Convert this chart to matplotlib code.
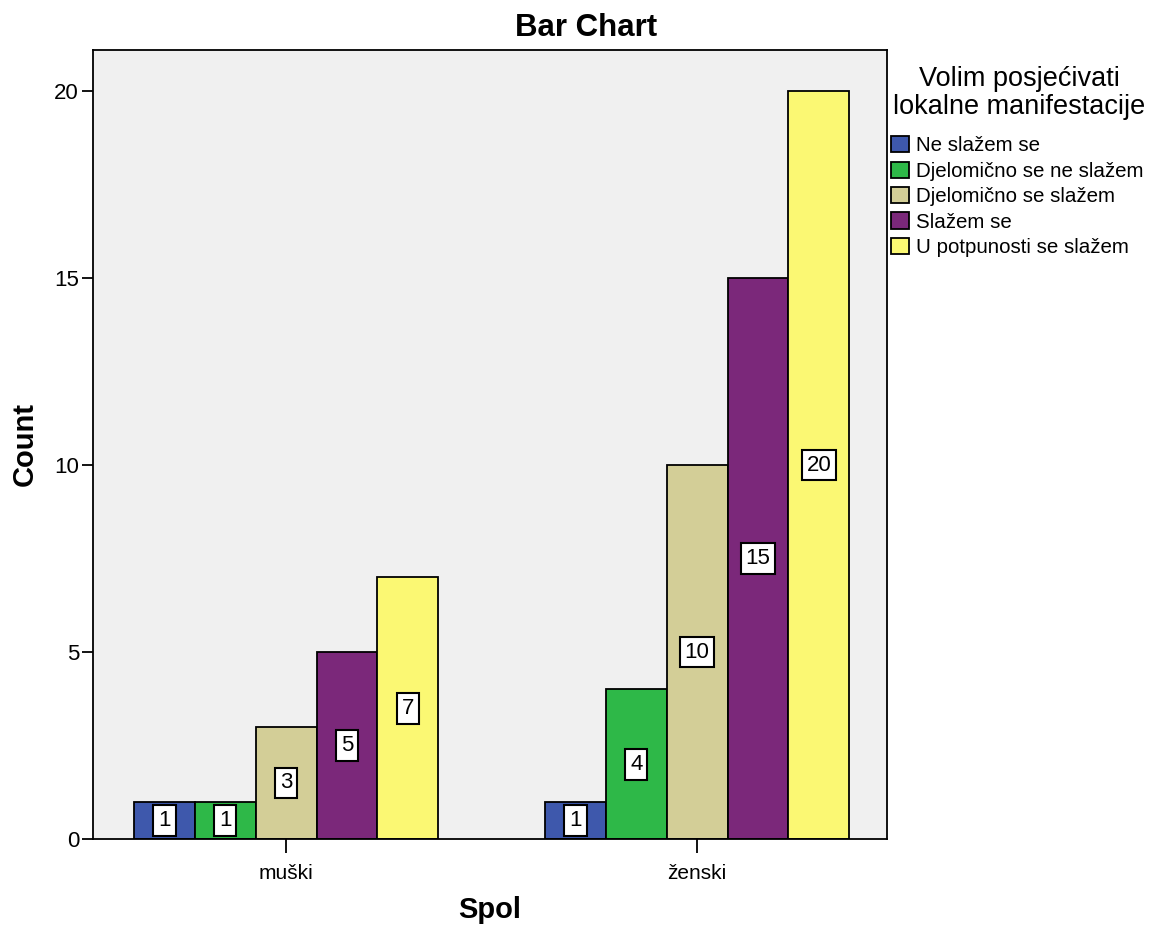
import matplotlib
matplotlib.use("Agg")
import matplotlib.pyplot as plt
import numpy as np
from matplotlib.patches import Patch

plt.rcParams['font.family'] = ['Liberation Sans', 'DejaVu Sans']

groups = ["muški", "ženski"]
series = ["Ne slažem se", "Djelomično se ne slažem", "Djelomično se slažem", "Slažem se", "U potpunosti se slažem"]
values = [
    [1, 1],
    [1, 4],
    [3, 10],
    [5, 15],
    [7, 20],
]
colors = ["#3e58ac", "#2eb848", "#d3ce97", "#7b287a", "#fbf873"]

fig = plt.figure(figsize=(11.5, 9.26), dpi=100)
ax = fig.add_axes([93/1150, 1-839/926, (887-93)/1150, (839-50)/926])
ax.set_facecolor("#f0f0f0")

x = np.arange(len(groups))
w = 0.148
for i, (name, vals, c) in enumerate(zip(series, values, colors)):
    pos = x + (i - 2) * w
    bars = ax.bar(pos, vals, width=w, color=c, edgecolor="black", linewidth=1.3, zorder=2)
    for b, v in zip(bars, vals):
        ax.text(b.get_x() + b.get_width()/2, v/2, str(v), ha="center", va="center",
                fontsize=16, zorder=3,
                bbox=dict(boxstyle="square,pad=0.22", facecolor="white", edgecolor="black", linewidth=1.5))

ax.set_xlim(-0.47, 1.462)
ax.set_ylim(0, 21.1)
ax.set_xticks(x)
ax.set_xticklabels(groups, fontsize=15)
ax.set_yticks([0, 5, 10, 15, 20])
ax.set_yticklabels(["0", "5", "10", "15", "20"], fontsize=16)
ax.tick_params(axis="y", direction="out", length=8, width=1.3, pad=2)
ax.tick_params(axis="x", direction="out", length=10, width=1.3, pad=8)
for s in ax.spines.values():
    s.set_color("black")
    s.set_linewidth(1.3)

ax.set_ylabel("Count", fontsize=21, fontweight="bold")
ax.yaxis.set_label_coords((25 - 93) / (887 - 93), 0.5)
ax.set_xlabel("Spol", fontsize=21, fontweight="bold")
ax.xaxis.set_label_coords((490 - 93) / (887 - 93), -(910 - 839) / (839 - 50))
ax.xaxis.label.set_va("center")
ax.yaxis.label.set_va("center")
fig.text(586/1150, 1-28/926, "Bar Chart", fontsize=22.5, fontweight="bold", ha="center", va="center")

fig.text(1019/1150, 1-93/926, "Volim posjećivati\nlokalne manifestacije", fontsize=19.5,
         ha="center", va="center", multialignment="center", linespacing=1.1)

handles = [Patch(facecolor=c, edgecolor="black", linewidth=1.3) for c in colors]
leg = fig.legend(handles, series, loc="upper left", bbox_to_anchor=(889/1150, 1-134/926),
                 frameon=False, fontsize=14.8, handlelength=0.85, handleheight=0.85,
                 handletextpad=0.35, labelspacing=0.3, borderaxespad=0, borderpad=0.1)

fig.savefig("out.png", dpi=100)
